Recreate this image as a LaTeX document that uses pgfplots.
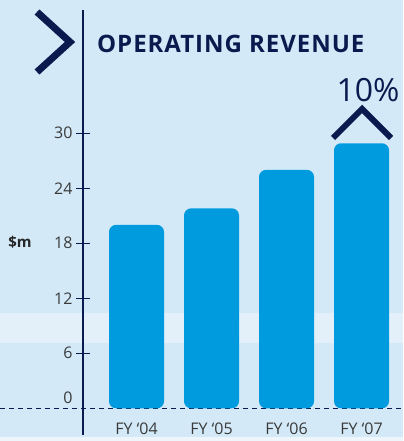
\documentclass[border=0pt]{standalone}
\usepackage{fontspec}
\setmainfont{Open Sans}
\usepackage{pgfplots}
\pgfplotsset{compat=1.18}
\definecolor{BgBlue}{HTML}{D3E9F7}
\definecolor{BandBlue}{HTML}{E3F0FA}
\definecolor{StripBlue}{HTML}{EEF6FC}
\definecolor{BarBlue}{HTML}{009BDF}
\definecolor{Navy}{HTML}{0B1A4E}
\definecolor{LabelGray}{HTML}{3A3A3A}

\begin{document}
\begin{tikzpicture}[x=1bp, y=1bp]
\useasboundingbox (0,0) rectangle (403,441);
% background, light band and baseline
\fill[BgBlue] (0,0) rectangle (403,441);
\fill[BandBlue] (0,98) rectangle (403,128);
\draw[Navy, line width=1.3bp, dash pattern=on 5bp off 4bp] (0,32.7) -- (403,32.7);

\begin{axis}[
  at={(83bp,6bp)}, anchor=south west,
  scale only axis,
  width=320bp, height=425bp,
  xmin=-0.7133, xmax=3.5533,
  ymin=-2.912, ymax=43.436,
  clip=false,
  axis y line*=left,
  axis x line*=bottom,
  x axis line style={draw=none},
  y axis line style={Navy, line width=1.5bp},
  xtick=data,
  xticklabels={FY ‘04, FY ‘05, FY ‘06, FY ‘07},
  xtick style={draw=none},
  xticklabel style={anchor=base, yshift=7bp, font=\fontsize{16bp}{18bp}\selectfont, text=LabelGray},
  ytick={6,12,18,24,30},
  tick align=center,
  major tick length=14bp,
  ytick style={Navy, line width=1.3bp},
  yticklabel style={font=\fontsize{16bp}{18bp}\selectfont, text=LabelGray, xshift=0bp},
  extra y ticks={0},
  extra y tick style={ytick style={draw=none}, yticklabel style={yshift=11bp}},
  /pgf/number format/assume math mode=true,
]
\addplot[ybar, bar width=55bp, fill=BarBlue, draw=none, rounded corners=7bp]
  coordinates {(0,20) (1,21.8) (2,26) (3,28.9)};
\end{axis}

% bottom strip
\fill[StripBlue] (0,0) rectangle (403,4);
% title and chevrons
\draw[Navy, line width=7bp, miter limit=10] (37,429) -- (70,399) -- (37,369);
\node[anchor=west, text=Navy, font=\bfseries\addfontfeature{LetterSpace=4}\fontsize{24bp}{28bp}\selectfont, inner sep=0pt] at (97,397.5) {OPERATING REVENUE};
\node[text=Navy, font=\fontsize{32bp}{36bp}\selectfont, inner sep=0pt] at (368,350.5) {10\%};
\draw[Navy, line width=6bp, miter limit=10] (333,303) -- (362,332) -- (391,303);
\node[text=black!85, font=\bfseries\fontsize{15bp}{18bp}\selectfont, inner sep=0pt] at (20,199) {\$m};
\end{tikzpicture}
\end{document}
